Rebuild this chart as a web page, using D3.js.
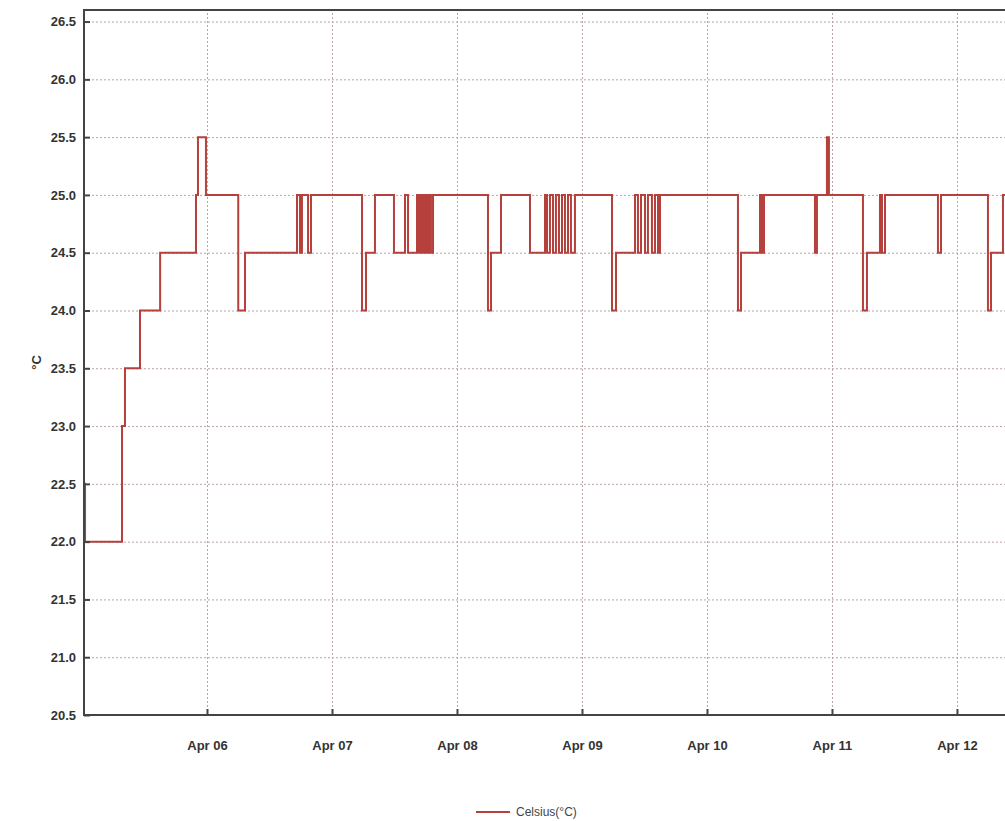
<!DOCTYPE html>
<html>
<head>
<meta charset="utf-8">
<title>Celsius</title>
<style>
  body { margin: 0; background: #fff; }
  svg { display: block; }
  .tick text { font-family: "Liberation Sans Narrow", "Arial Narrow", "Liberation Sans", sans-serif; font-weight: bold; font-size: 13px; fill: #333; }
  .grid line { stroke: #b9a3a3; stroke-width: 1; stroke-dasharray: 2,2; }
  .grid path { display: none; }
</style>
</head>
<body>
<div id="chart"></div>
<script src="https://d3js.org/d3.v7.min.js"></script>
<script>
// readings (step changes)
var times = [
  "2019-04-05 00:23", "2019-04-05 00:35", "2019-04-05 07:41", "2019-04-05 08:15", "2019-04-05 11:08",
  "2019-04-05 15:00", "2019-04-05 21:53", "2019-04-05 22:16", "2019-04-05 23:48", "2019-04-06 06:00",
  "2019-04-06 07:18", "2019-04-06 17:17", "2019-04-06 17:51", "2019-04-06 18:14", "2019-04-06 19:24",
  "2019-04-06 19:58", "2019-04-07 05:46", "2019-04-07 06:32", "2019-04-07 08:15", "2019-04-07 11:54",
  "2019-04-07 14:01", "2019-04-07 14:36", "2019-04-07 16:19", "2019-04-07 16:42", "2019-04-07 17:05",
  "2019-04-07 17:28", "2019-04-07 17:51", "2019-04-07 18:14", "2019-04-07 18:37", "2019-04-07 19:00",
  "2019-04-07 19:24", "2019-04-08 05:57", "2019-04-08 06:32", "2019-04-08 08:27", "2019-04-08 14:01",
  "2019-04-08 16:54", "2019-04-08 17:17", "2019-04-08 17:51", "2019-04-08 18:26", "2019-04-08 19:00",
  "2019-04-08 19:35", "2019-04-08 20:10", "2019-04-08 20:44", "2019-04-08 21:19", "2019-04-08 21:53",
  "2019-04-08 22:39", "2019-04-09 05:46", "2019-04-09 06:32", "2019-04-09 10:11", "2019-04-09 10:45",
  "2019-04-09 11:20", "2019-04-09 12:06", "2019-04-09 12:40", "2019-04-09 13:26", "2019-04-09 14:01",
  "2019-04-09 14:36", "2019-04-09 14:59", "2019-04-10 05:57", "2019-04-10 06:32", "2019-04-10 10:11",
  "2019-04-10 10:34", "2019-04-10 10:57", "2019-04-10 20:44", "2019-04-10 21:07", "2019-04-10 23:02",
  "2019-04-10 23:25", "2019-04-11 05:57", "2019-04-11 06:43", "2019-04-11 09:13", "2019-04-11 09:36",
  "2019-04-11 10:11", "2019-04-11 20:21", "2019-04-11 20:56", "2019-04-12 05:57", "2019-04-12 06:32",
  "2019-04-12 08:50", "2019-04-12 10:11"
];
var celsius = [
  22.5, 22.0, 23.0, 23.5, 24.0,
  24.5, 25.0, 25.5, 25.0, 24.0,
  24.5, 25.0, 24.5, 25.0, 24.5,
  25.0, 24.0, 24.5, 25.0, 24.5,
  25.0, 24.5, 25.0, 24.5, 25.0,
  24.5, 25.0, 24.5, 25.0, 24.5,
  25.0, 24.0, 24.5, 25.0, 24.5,
  25.0, 24.5, 25.0, 24.5, 25.0,
  24.5, 25.0, 24.5, 25.0, 24.5,
  25.0, 24.0, 24.5, 25.0, 24.5,
  25.0, 24.5, 25.0, 24.5, 25.0,
  24.5, 25.0, 24.0, 24.5, 25.0,
  24.5, 25.0, 24.5, 25.0, 25.5,
  25.0, 24.0, 24.5, 25.0, 24.5,
  25.0, 24.5, 25.0, 24.0, 24.5,
  25.0, 25.0
];
var yTicks = [20.5, 21.0, 21.5, 22.0, 22.5, 23.0, 23.5, 24.0, 24.5, 25.0, 25.5, 26.0, 26.5];
var seriesName = "Celsius(°C)";
var yTitle = "°C";

var width = 1005, height = 821;
var plotLeft = 84, plotRight = 1010, plotTop = 10, plotBottom = 715;

var parse = d3.timeParse("%Y-%m-%d %H:%M");
var data = times.map(function(t, i){ return {date: parse(t), value: celsius[i]}; });

var x = d3.scaleTime()
    .domain([data[0].date, data[data.length - 1].date])
    .range([plotLeft, plotRight]);

var y = d3.scaleLinear()
    .domain([20.5, 26.6])
    .range([plotBottom, plotTop]);

var svg = d3.select("#chart").append("svg")
    .attr("width", width)
    .attr("height", height);

// grid
svg.append("g")
    .attr("class", "grid")
    .attr("transform", "translate(" + plotLeft + ",0)")
    .call(d3.axisLeft(y).tickValues(yTicks).tickSize(-(plotRight - plotLeft)).tickFormat(""));

svg.append("g")
    .attr("class", "grid")
    .attr("transform", "translate(0," + plotBottom + ")")
    .call(d3.axisBottom(x).ticks(d3.timeDay.every(1)).tickSize(-(plotBottom - plotTop)).tickFormat(""));

// line
var line = d3.line()
    .curve(d3.curveStepAfter)
    .x(function(d){ return x(d.date); })
    .y(function(d){ return y(d.value); });

svg.append("path")
    .datum(data)
    .attr("fill", "none")
    .attr("stroke", "#b5403c")
    .attr("stroke-width", 2)
    .attr("d", line);

// axes
var yAxis = svg.append("g")
    .attr("transform", "translate(" + plotLeft + ",0)")
    .call(d3.axisLeft(y).tickValues(yTicks).tickSize(0).tickPadding(8).tickFormat(d3.format(".1f")));
yAxis.select(".domain").remove();
yAxis.selectAll(".tick").append("line")
    .attr("x1", 0).attr("x2", 6)
    .attr("stroke", "#444").attr("stroke-width", 2);

var xAxis = svg.append("g")
    .attr("transform", "translate(0," + plotBottom + ")")
    .call(d3.axisBottom(x).ticks(d3.timeDay.every(1)).tickSize(0).tickPadding(26).tickFormat(d3.timeFormat("%b %d")));
xAxis.select(".domain").remove();
xAxis.selectAll(".tick").append("line")
    .attr("y1", 0).attr("y2", -6)
    .attr("stroke", "#444").attr("stroke-width", 2);

// frame
svg.append("rect")
    .attr("x", plotLeft).attr("y", plotTop)
    .attr("width", plotRight - plotLeft).attr("height", plotBottom - plotTop)
    .attr("fill", "none")
    .attr("stroke", "#444")
    .attr("stroke-width", 2);

// y title
svg.append("text")
    .attr("transform", "translate(41," + ((plotTop + plotBottom) / 2) + ") rotate(-90)")
    .attr("text-anchor", "middle")
    .style("font-family", "Liberation Sans Narrow, Arial Narrow, sans-serif")
    .style("font-weight", "bold")
    .style("font-size", "13px")
    .style("fill", "#333")
    .text(yTitle);

// legend
svg.append("line")
    .attr("x1", 476).attr("x2", 510)
    .attr("y1", 812).attr("y2", 812)
    .attr("stroke", "#b5403c")
    .attr("stroke-width", 2);
svg.append("text")
    .attr("x", 516).attr("y", 816)
    .style("font-family", "Liberation Sans Narrow, Arial Narrow, sans-serif")
    .style("font-size", "12px")
    .style("fill", "#444")
    .text(seriesName);
</script>
</body>
</html>
